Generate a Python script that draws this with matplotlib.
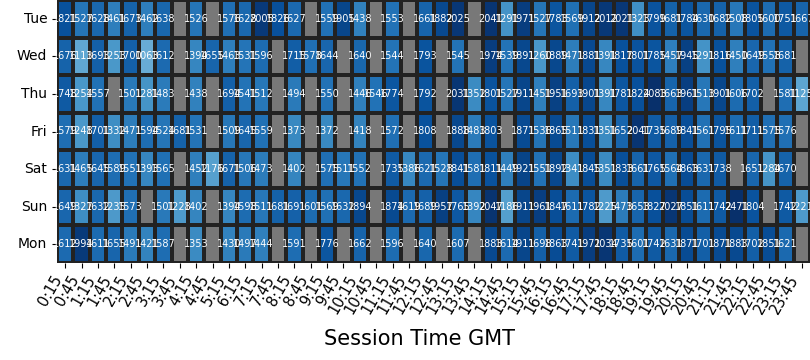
import numpy as np
import pandas as pd
import matplotlib
matplotlib.use("Agg")
import matplotlib.pyplot as plt
import seaborn as sns

nan = np.nan

days = ["Tue", "Wed", "Thu", "Fri", "Sat", "Sun", "Mon"]

times = ["0:15", "0:45", "1:15", "1:45", "2:15", "2:45", "3:15", "3:45", "4:15", "4:45",
         "5:15", "6:15", "7:15", "7:45", "8:15", "8:45", "9:15", "9:45", "10:15", "10:45",
         "11:15", "11:45", "12:15", "12:45", "13:15", "13:45", "14:15", "14:45", "15:15", "15:45",
         "16:15", "16:45", "17:15", "17:45", "18:15", "18:45", "19:15", "19:45", "20:15", "20:45",
         "21:15", "21:45", "22:15", "22:45", "23:15", "23:45"]

tue = [1821, 1527, 1628, 1461, 1673, 1462, 1638, nan, 1526, nan,
       1576, 1628, 2005, 1826, 1627, nan, 1559, 1905, 1438, nan,
       1553, nan, 1661, 1882, 2025, nan, 2041, 1291, 1971, 1527,
       1783, 1569, 1912, 2012, 2021, 1323, 1799, 1681, 1784, 1630,
       1682, 1508, 1805, 1600, 1751, 1667]
wed = [1676, 1113, 1693, 1253, 1700, 1063, 1612, nan, 1394, 1655,
       1463, 1531, 1596, nan, 1715, 1578, 1644, nan, 1640, nan,
       1544, nan, 1793, nan, 1545, nan, 1974, 1539, 1891, 1260,
       1889, 1471, 1881, 1391, 1817, 1801, 1785, 1457, 1945, 1291,
       1816, 1450, 1649, 1558, 1681, nan]
thu = [1748, 1254, 1557, nan, 1501, 1281, 1483, nan, 1438, nan,
       1694, 1541, 1512, nan, 1494, nan, 1550, nan, 1446, 1546,
       1774, nan, 1792, nan, 2031, 1352, 1801, 1527, 1911, 1451,
       1951, 1693, 1901, 1391, 1781, 1824, 2083, 1663, 1961, 1513,
       1901, 1606, 1702, nan, 1581, 1125]
fri = [1579, 1248, 1701, 1332, 1471, 1594, 1524, 1681, 1531, nan,
       1509, 1645, 1559, nan, 1373, nan, 1372, nan, 1418, nan,
       1572, nan, 1808, nan, 1888, 1483, 1803, nan, 1871, 1536,
       1865, 1511, 1831, 1351, 1652, 2041, 1735, 1689, 1841, 1561,
       1795, 1611, 1711, 1575, 1576, nan]
sat = [1631, 1465, 1645, 1589, 1551, 1393, 1565, nan, 1452, 1176,
       1671, 1506, 1473, nan, 1402, nan, 1575, 1511, 1552, nan,
       1735, 1386, 1621, 1528, 1841, 1581, 1811, 1449, 1921, 1551,
       1892, 1341, 1845, 1351, 1833, 1661, 1765, 1564, 1863, 1631,
       1738, nan, 1651, 1284, 1670, nan]
sun = [1649, 1327, 1632, 1235, 1573, nan, 1501, 1228, 1402, nan,
       1394, 1598, 1511, 1681, 1691, 1601, 1569, 1632, 1894, nan,
       1874, 1619, 1689, 1957, 1765, 1392, 2047, 1186, 1911, 1961,
       1847, 1611, 1782, 1225, 1473, 1653, 1827, 2027, 1851, 1611,
       1742, 2471, 1804, nan, 1742, 1221]
mon = [1612, 1994, 1611, 1655, 1491, 1421, 1587, nan, 1353, nan,
       1430, 1497, 1444, nan, 1591, nan, 1776, nan, 1662, nan,
       1596, nan, 1640, nan, 1607, nan, 1883, 1614, 1911, 1698,
       1863, 1741, 1971, 2034, 1735, 1601, 1742, 1631, 1871, 1701,
       1871, 1883, 1702, 1851, 1621, nan]

df = pd.DataFrame([tue, wed, thu, fri, sat, sun, mon], index=days, columns=times)

cmap = plt.get_cmap("Blues").copy()
cmap.set_bad("#787878")

fig = plt.figure(figsize=(8.1, 3.6), dpi=100)
ax = fig.add_axes([57 / 810, 97 / 360, 753 / 810, 263 / 360])
sns.heatmap(df, ax=ax, cmap=cmap, vmin=0, vmax=2083, annot=True, fmt=".0f",
            annot_kws={"size": 7, "color": "white"},
            linewidths=1.5, linecolor="#222222", cbar=False,
            xticklabels=times, yticklabels=days)
ax.set_facecolor("#787878")
ax.set_xticklabels(times, rotation=60, ha="right", fontsize=10.5)
ax.set_yticklabels(days, rotation=0, fontsize=10)
ax.set_xlabel("Session Time GMT", fontsize=15)
ax.xaxis.set_label_coords(0.481, -0.25)
ax.set_ylabel("")
fig.savefig("out.png", dpi=100)
